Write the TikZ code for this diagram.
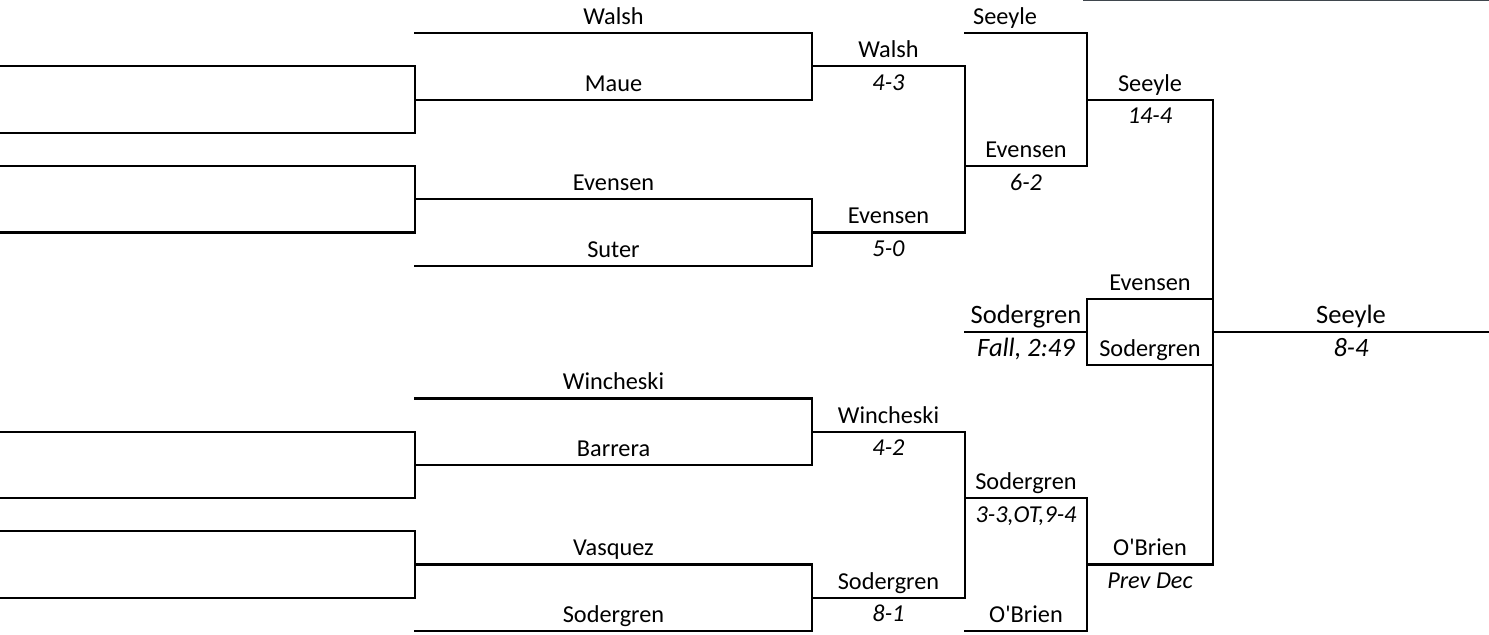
\documentclass[tikz,border=0pt]{standalone}
\usepackage{fontspec}
\setmainfont{Carlito}
\usetikzlibrary{calc}

\tikzset{
  bline/.style={line width=2.2pt, line join=miter, line cap=rect},
  wname/.style={anchor=base, inner sep=0pt, yshift=8.5pt, font=\fontsize{24.3}{29}\selectfont},
  wscore/.style={anchor=base, inner sep=0pt, yshift=-24pt, font=\fontsize{24.3}{29}\selectfont\itshape},
  bigname/.style={wname, font=\fontsize{26.5}{32}\selectfont},
  bigscore/.style={wscore, font=\fontsize{26.5}{32}\selectfont\itshape},
}

\begin{document}
\begin{tikzpicture}[x=1pt, y=-33.2pt]
  \useasboundingbox (0,0) rectangle (1489,19.126);

  % strip at the top edge
  \draw[line width=1.4pt, black!80!cyan] (1083,0.02) -- (1489,0.02);

  % first round
  \foreach \r in {2,5,13,16}
      \draw[bline] (0,\r) -- (415,\r) -- (415,\r+2) -- (0,\r+2);
  \foreach \r in {1,8,12,19}
      \draw[bline] (415,\r) -- (812,\r);

  % second round
  \foreach \r in {1,6,12,17}
      \draw[bline] (415,\r) -- (812,\r) -- (812,\r+2) -- (415,\r+2);
  \foreach \r in {2,7,13,18}
      \draw[bline] (812,\r) -- (965,\r);

  % third round
  \draw[bline] (812,2) -- (965,2) -- (965,7) -- (812,7);
  \draw[bline] (812,13) -- (965,13) -- (965,18) -- (812,18);
  \foreach \r in {5,10,15}
      \draw[bline] (965,\r) -- (1087,\r);

  % fourth round
  \draw[bline] (965,1) -- (1087,1) -- (1087,5) -- (965,5);
  \draw[bline] (1213,9) -- (1087,9) -- (1087,11) -- (1213,11);
  \draw[bline] (965,19) -- (1087,19) -- (1087,15) -- (965,15);
  \foreach \r in {3,17}
      \draw[bline] (1087,\r) -- (1213,\r);

  % final
  \draw[bline] (1087,3) -- (1213,3) -- (1213,17) -- (1087,17);
  \draw[bline] (1213,10) -- (1489,10);

  % names on the first lines
  \node[wname] (walshA) at (613.5,1) {Walsh};
  \node[wname] (maueA) at (613.5,3) {Maue};
  \node[wname] (evensenA) at (613.5,6) {Evensen};
  \node[wname] (suterA) at (613.5,8) {Suter};
  \node[wname] (winchA) at (613.5,12) {Wincheski};
  \node[wname] (barreraA) at (613.5,14) {Barrera};
  \node[wname] (vasquezA) at (613.5,17) {Vasquez};
  \node[wname] (sodergrenA) at (613.5,19) {Sodergren};

  % second round winners
  \node[wname] (walshB) at (888.5,2) {Walsh};
  \node[wscore] (walshBs) at (888.5,2) {4-3};
  \node[wname] (evensenB) at (888.5,7) {Evensen};
  \node[wscore] (evensenBs) at (888.5,7) {5-0};
  \node[wname] (winchB) at (888.5,13) {Wincheski};
  \node[wscore] (winchBs) at (888.5,13) {4-2};
  \node[wname] (sodergrenB) at (888.5,18) {Sodergren};
  \node[wscore] (sodergrenBs) at (888.5,18) {8-1};

  % third column
  \node[wname, anchor=base west] (seeyleC) at (973,1) {Seeyle};
  \node[wname] (evensenC) at (1026,5) {Evensen};
  \node[wscore] (evensenCs) at (1026,5) {6-2};
  \node[bigname] (sodergrenC) at (1026,10) {Sodergren};
  \node[bigscore] (sodergrenCs) at (1026,10) {Fall, 2:49};
  \node[wname] (sodergrenD) at (1026,15) {Sodergren};
  \node[wscore] (sodergrenDs) at (1026,15) {3-3,OT,9-4};
  \node[wname] (obrienC) at (1026,19) {O\textquotesingle Brien};

  % fourth column
  \node[wname] (seeyleD) at (1150,3) {Seeyle};
  \node[wscore] (seeyleDs) at (1150,3) {14-4};
  \node[wname] (evensenD) at (1150,9) {Evensen};
  \node[wname] (sodergrenE) at (1150,11) {Sodergren};
  \node[wname] (obrienD) at (1150,17) {O\textquotesingle Brien};
  \node[wscore] (obrienDs) at (1150,17) {Prev Dec};

  % champion
  \node[bigname] (seeyleE) at (1351,10) {Seeyle};
  \node[bigscore] (seeyleEs) at (1351,10) {8-4};
\end{tikzpicture}
\end{document}
